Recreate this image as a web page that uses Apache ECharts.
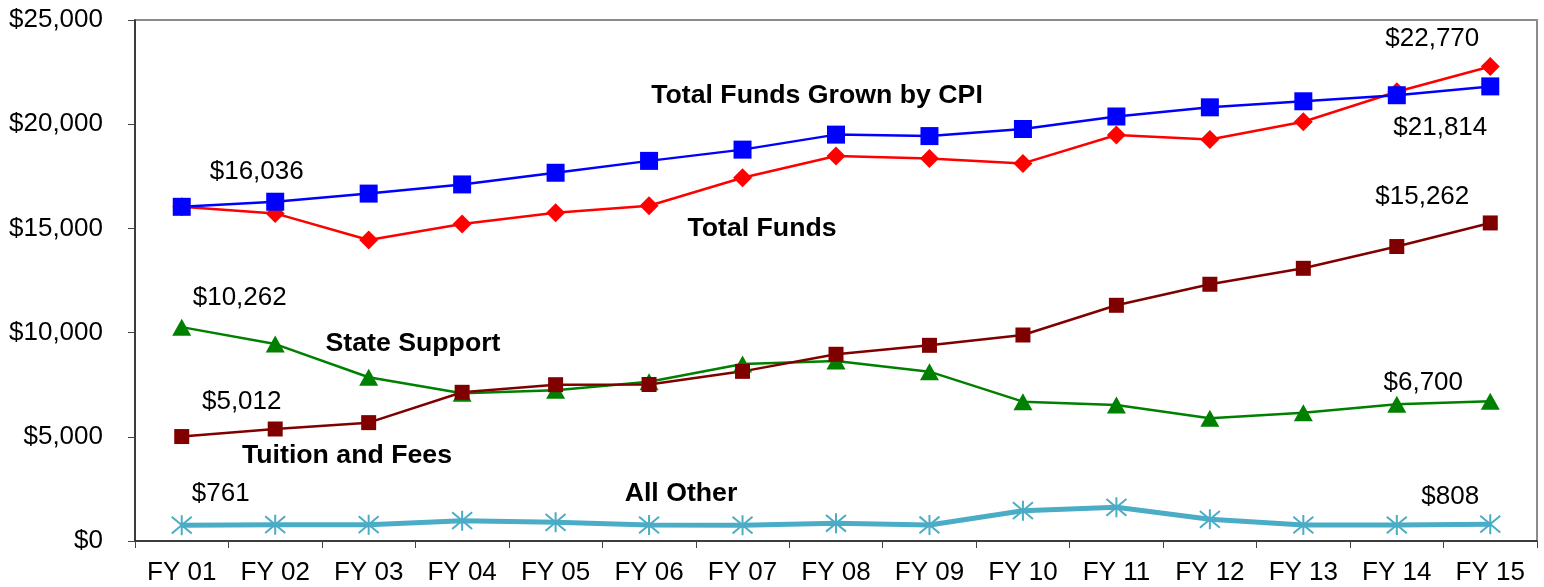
<!DOCTYPE html>
<html>
<head>
<meta charset="utf-8">
<script src="https://cdn.jsdelivr.net/npm/echarts@6/dist/echarts.min.js"></script>
<style>
  html, body { margin: 0; padding: 0; background: #fff; }
  #main { width: 1544px; height: 587px; }
</style>
</head>
<body>
<div id="main"></div>
<script>
// fiscal years
var years = ['FY 01', 'FY 02', 'FY 03', 'FY 04', 'FY 05', 'FY 06', 'FY 07', 'FY 08',
  'FY 09', 'FY 10', 'FY 11', 'FY 12', 'FY 13', 'FY 14', 'FY 15'];

// values (first / last are the labelled ones)
var totalFunds = [16036, 15720, 14440, 15210, 15750, 16090, 17430, 18470, 18350, 18120, 19480, 19270, 20120, 21560, 22770];
var cpiFunds = [16036, 16280, 16670, 17110, 17670, 18240, 18780, 19500, 19430, 19770, 20370, 20810, 21100, 21390, 21814];
var stateSupport = [10262, 9450, 7855, 7090, 7230, 7645, 8490, 8640, 8125, 6685, 6525, 5885, 6155, 6560, 6700];
var tuitionFees = [5012, 5374, 5680, 7135, 7500, 7510, 8140, 8960, 9390, 9885, 11310, 12320, 13085, 14130, 15262];
var allOther = [761, 785, 785, 975, 895, 768, 760, 850, 770, 1455, 1615, 1040, 768, 768, 808];

var yTicks = [0, 5000, 10000, 15000, 20000, 25000];

var FONT = "'Liberation Sans', Arial, sans-serif";

function money(v) {
  return '$' + Number(v).toLocaleString('en-US');
}

// put a value label on chosen points only
function withLabels(values, labelled) {
  return values.map(function (v, i) {
    if (!labelled[i]) return v;
    return {
      value: v,
      label: {
        show: true,
        position: 'inside',
        offset: labelled[i],
        formatter: function (p) { return money(p.value); },
        fontFamily: FONT,
        fontSize: 26,
        color: '#000'
      }
    };
  });
}

var myChart = echarts.init(document.getElementById('main'));

// asterisk marker for "All Other"
var starPath = 'path://M0 0L20 20M20 0L0 20M10 -2L10 22';

var option = {
  animation: false,
  backgroundColor: '#fff',
  grid: {
    left: 135,
    right: 7,
    top: 20,
    bottom: 46,
    show: true,
    borderColor: '#8c8c8c',
    borderWidth: 2
  },
  xAxis: {
    type: 'category',
    data: years,
    boundaryGap: true,
    axisLine: { lineStyle: { color: '#222', width: 1.5 } },
    axisTick: { show: true, length: 7, lineStyle: { color: '#444' } },
    axisLabel: { fontFamily: FONT, fontSize: 26, color: '#000', margin: 19 },
    splitLine: { show: false }
  },
  yAxis: {
    type: 'value',
    min: yTicks[0],
    max: yTicks[yTicks.length - 1],
    interval: 5000,
    axisLine: { show: true, lineStyle: { color: '#222', width: 1.5 } },
    axisTick: { show: true, length: 7, lineStyle: { color: '#444' } },
    axisLabel: {
      fontFamily: FONT, fontSize: 26, color: '#000', margin: 32,
      formatter: function (v) { return money(v); }
    },
    splitLine: { show: false }
  },
  series: [
    {
      name: 'Total Funds',
      type: 'line',
      data: withLabels(totalFunds, { 14: [-58, -28] }),
      symbol: 'diamond',
      symbolSize: 19,
      lineStyle: { color: '#ff0000', width: 2.5 },
      itemStyle: { color: '#ff0000' }
    },
    {
      name: 'Total Funds Grown by CPI',
      type: 'line',
      data: withLabels(cpiFunds, { 0: [75, -35], 14: [-50, 41] }),
      symbol: 'rect',
      symbolSize: 18,
      lineStyle: { color: '#0000ff', width: 2.5 },
      itemStyle: { color: '#0000ff' }
    },
    {
      name: 'State Support',
      type: 'line',
      data: withLabels(stateSupport, { 0: [58, -29], 14: [-67, -19] }),
      symbol: 'triangle',
      symbolSize: [19, 17],
      lineStyle: { color: '#008000', width: 2.5 },
      itemStyle: { color: '#008000' }
    },
    {
      name: 'Tuition and Fees',
      type: 'line',
      data: withLabels(tuitionFees, { 0: [60, -35], 14: [-68, -26] }),
      symbol: 'rect',
      symbolSize: 15,
      lineStyle: { color: '#800000', width: 2.5 },
      itemStyle: { color: '#800000' }
    },
    {
      name: 'All Other',
      type: 'line',
      data: withLabels(allOther, { 0: [39, -31], 14: [-40, -27] }),
      symbol: starPath,
      symbolSize: 20,
      lineStyle: { color: '#4bacc6', width: 5 },
      itemStyle: { color: '#4bacc6', borderColor: '#4bacc6', borderWidth: 2 }
    }
  ],
  graphic: [
    { type: 'text', x: 817, y: 96, style: { text: 'Total Funds Grown by CPI', align: 'center', verticalAlign: 'middle', font: 'bold 26.7px ' + FONT, fill: '#000' } },
    { type: 'text', x: 762, y: 229, style: { text: 'Total Funds', align: 'center', verticalAlign: 'middle', font: 'bold 26.7px ' + FONT, fill: '#000' } },
    { type: 'text', x: 413, y: 344, style: { text: 'State Support', align: 'center', verticalAlign: 'middle', font: 'bold 26.7px ' + FONT, fill: '#000' } },
    { type: 'text', x: 347, y: 456, style: { text: 'Tuition and Fees', align: 'center', verticalAlign: 'middle', font: 'bold 26.7px ' + FONT, fill: '#000' } },
    { type: 'text', x: 681, y: 494, style: { text: 'All Other', align: 'center', verticalAlign: 'middle', font: 'bold 26.7px ' + FONT, fill: '#000' } }
  ]
};

option && myChart.setOption(option);
</script>
</body>
</html>
